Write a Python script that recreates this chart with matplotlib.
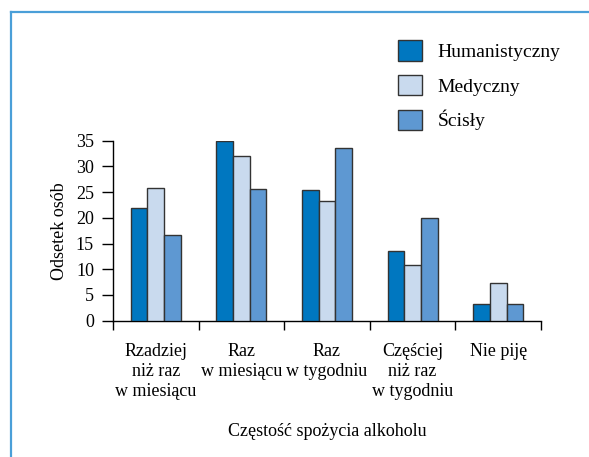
import matplotlib
matplotlib.use("Agg")
import matplotlib.pyplot as plt
import numpy as np
from matplotlib.lines import Line2D

plt.rcParams["font.family"] = ["Liberation Serif", "DejaVu Serif"]

categories = ["Rzadziej\nniż raz\nw miesiącu", "Raz\nw miesiącu", "Raz\nw tygodniu",
              "Częściej\nniż raz\nw tygodniu", "Nie piję"]
series_names = ["Humanistyczny", "Medyczny", "Ścisły"]
humanistyczny = [22.0, 35.0, 25.5, 13.5, 3.3]
medyczny = [25.9, 32.0, 23.3, 10.9, 7.3]
scisly = [16.6, 25.7, 33.6, 20.0, 3.3]
colors = ["#0077c0", "#c9daee", "#5e98d2"]

fig = plt.figure(figsize=(5.89, 4.57), dpi=100)
ax = fig.add_axes([113 / 589, 136.3 / 457, 428 / 589, 180 / 457])

x = np.arange(len(categories)) + 0.5
w = 0.195
for k, (vals, name) in enumerate(zip([humanistyczny, medyczny, scisly], series_names)):
    ax.bar(x + (k - 1) * w, vals, width=w, color=colors[k], edgecolor="#333333",
           linewidth=1.0, label=name, zorder=3)

ax.set_xlim(0, 5)
ax.set_ylim(0, 35)
ax.set_yticks(range(0, 36, 5))
ax.tick_params(axis="y", length=7.7, width=1, pad=6, labelsize=13)
ax.set_xticks(range(0, 6))
ax.set_xticklabels([])
ax.tick_params(axis="x", which="major", length=6.5, width=1)
ax.set_xticks(x, minor=True)
ax.set_xticklabels(categories, minor=True, fontsize=13, linespacing=1.25)
ax.tick_params(axis="x", which="minor", length=0, pad=16)

for side in ["top", "right"]:
    ax.spines[side].set_visible(False)
ax.spines["left"].set_linewidth(1)
ax.spines["bottom"].set_linewidth(1)

ax.set_ylabel("Odsetek osób", fontsize=13)
ax.yaxis.set_label_coords(-0.104, 0.5)
ax.set_xlabel("Częstość spożycia alkoholu", fontsize=13, va="center")
ax.xaxis.set_label_coords(0.5, -0.615)

fig.legend(loc="upper left", bbox_to_anchor=(398 / 589, 1 - 40 / 457), frameon=False,
           fontsize=14, handlelength=1.25, handleheight=1.25, labelspacing=0.72,
           handletextpad=0.8, borderpad=0, borderaxespad=0)

# blue frame lines
fig.add_artist(Line2D([11 / 589, 11 / 589], [0, 1 - 12 / 457], color="#4a9fd8", linewidth=1.6))
fig.add_artist(Line2D([11 / 589, 1], [1 - 12 / 457, 1 - 12 / 457], color="#4a9fd8", linewidth=1.6))

fig.savefig("out.png", dpi=100)
